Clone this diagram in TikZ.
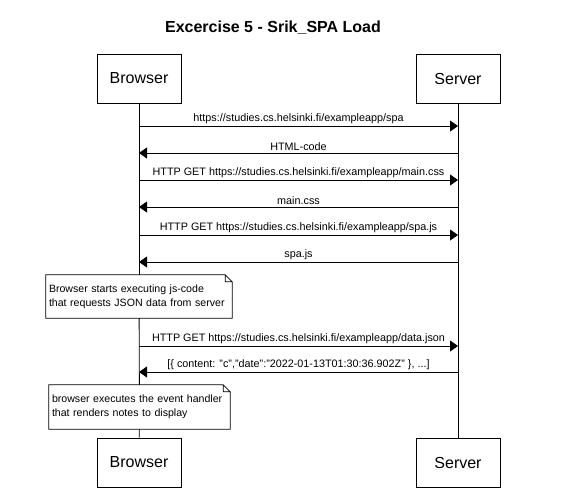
\documentclass[tikz,border=0pt]{standalone}
\usepackage{fontspec}
\setmainfont{Liberation Sans}
\usepackage{tikz}
\usetikzlibrary{arrows.meta}

\begin{document}
\begin{tikzpicture}[x=1pt,y=-1pt,
		actor/.style={draw,line width=0.8pt,minimum width=84pt,minimum height=49pt,inner sep=0pt,font=\fontsize{16}{19}\selectfont},
		msg/.style={line width=0.8pt,-{Triangle[length=8pt,width=11pt]}},
		lbl/.style={above,inner sep=2pt,font=\fontsize{10.8}{12}\selectfont},
		notetext/.style={align=left,inner xsep=3pt,inner ysep=5pt,font=\fontsize{10.6}{14}\selectfont}]
		
		\useasboundingbox (0,0) rectangle (573,498);
		\node[font=\bfseries\fontsize{16}{19}\selectfont] (title) at (273,28) {Excercise 5 - Srik\_SPA Load};
		
		\node[actor] (bt) at (139,78.5) {Browser};
		\node[actor] (st) at (458,78.5) {Server};
		\node[actor] (bb) at (139,462.5) {Browser};
		\node[actor] (sb) at (458,462.5) {Server};
		
		\node[notetext,text width=180pt,minimum height=43pt] (n1) at (139,296.5) {\hyphenpenalty=10000 Browser starts executing js-code\\that requests JSON data from server};
		\node[notetext,text width=175pt,minimum height=44pt] (n2) at (139.5,407) {\hyphenpenalty=10000 browser executes the event handler\\that renders notes to display};
		\foreach \n in {n1,n2}
		\draw[line width=0.8pt] (\n.south west) -- (\n.north west) -- ([xshift=-7pt]\n.north east) -- ([yshift=-7pt]\n.north east) -- (\n.south east) -- cycle
		([xshift=-7pt]\n.north east) -- ([xshift=-7pt,yshift=-7pt]\n.north east) -- ([yshift=-7pt]\n.north east);
		
		% lifelines
		\draw[line width=0.8pt] (bt) -- (n1);
		\draw[line width=0.8pt] (n1) -- (n2);
		\draw[line width=0.8pt] (n2) -- (bb);
		\draw[line width=0.8pt] (st) -- (sb);
		
		\foreach \i/\y in {1/126,2/153,3/180,4/207,5/235,6/262,7/346,8/372}
		{
			\coordinate (b\i) at (139,\y);
			\coordinate (s\i) at (458,\y);
		}
		
		\draw[msg] (b1) -- node[lbl]{https://studies.cs.helsinki.fi/exampleapp/spa} (s1);
		\draw[msg] (s2) -- node[lbl]{HTML-code} (b2);
		\draw[msg] (b3) -- node[lbl]{HTTP GET https://studies.cs.helsinki.fi/exampleapp/main.css} (s3);
		\draw[msg] (s4) -- node[lbl]{main.css} (b4);
		\draw[msg] (b5) -- node[lbl]{HTTP GET https://studies.cs.helsinki.fi/exampleapp/spa.js} (s5);
		\draw[msg] (s6) -- node[lbl]{spa.js} (b6);
		\draw[msg] (b7) -- node[lbl]{HTTP GET https://studies.cs.helsinki.fi/exampleapp/data.json} (s7);
		\draw[msg] (s8) -- node[lbl]{[\{ content: "c","date":"2022-01-13T01:30:36.902Z" \}, ...]} (b8);
		
\end{tikzpicture}
\end{document}
